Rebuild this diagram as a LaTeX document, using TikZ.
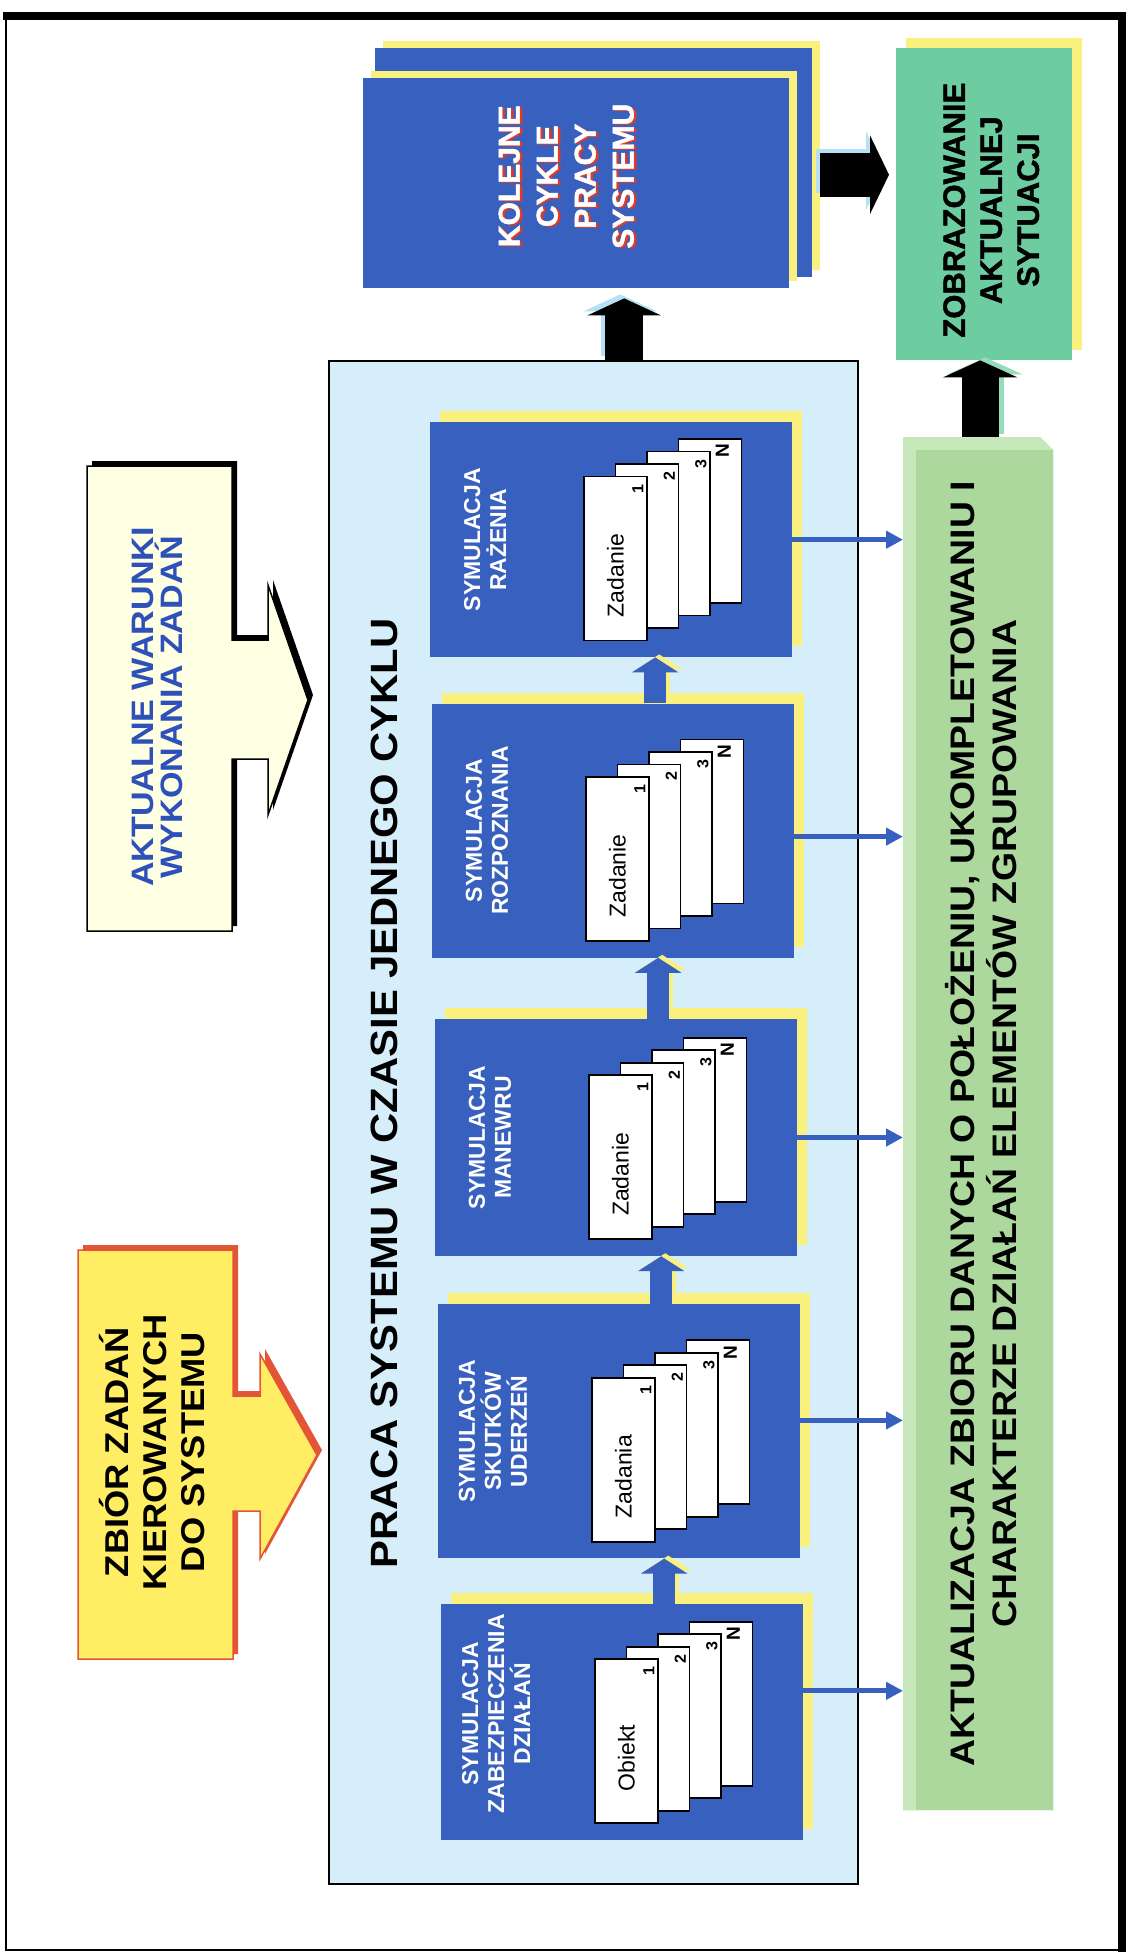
\documentclass[tikz,border=0pt]{standalone}
\usepackage{fontspec}
\setmainfont{Liberation Sans}
\newfontfamily\widefont{Liberation Sans}[FakeStretch=1.1]
\newfontfamily\heavyfont{Liberation Sans}[BoldFeatures={FakeBold=1.5}]
\usepackage{tikz}
\usetikzlibrary{
	arrows.meta,
	positioning,
	calc,
	shadows
}
\definecolor{panelblue}{RGB}{213,238,249}
\definecolor{simblue}{RGB}{56,96,190}
\definecolor{simyellow}{RGB}{250,240,125}
\definecolor{zobgreen}{RGB}{110,205,160}
\definecolor{aktgreen}{RGB}{172,216,158}
\definecolor{aktgreenl}{RGB}{198,232,186}
\definecolor{cream}{RGB}{255,255,228}
\definecolor{zbiorfill}{RGB}{255,238,100}
\definecolor{zbiorred}{RGB}{228,85,55}
\definecolor{glowblue}{RGB}{180,225,245}
\definecolor{glowgreen}{RGB}{150,220,185}
\definecolor{warblue}{RGB}{45,80,185}
\definecolor{kolred}{RGB}{220,60,40}

\begin{document}
\begin{tikzpicture}[x=1pt, y=-1pt,
	simbox/.style={fill=simblue, inner sep=0pt, minimum width=362pt, anchor=north west,
		general shadow={fill=simyellow, shadow xshift=10pt, shadow yshift=11pt}},
	simtxt/.style={rotate=90, align=center, text=white, inner sep=0pt,
		font=\fontsize{23}{26}\selectfont\bfseries},
	card/.style={draw=black, line width=1.8pt, fill=white, inner sep=0pt,
		minimum width=63pt, minimum height=164pt, anchor=south west},
	cardnum/.style={rotate=90, inner sep=0pt, font=\fontsize{#1}{#1}\selectfont\bfseries},
	cardtxt/.style={rotate=90, inner sep=0pt, font=\fontsize{23}{25}\selectfont},
	simarrow/.style={draw=simblue, line width=22pt, -{Triangle[length=15pt, width=46pt]}},
	simglow/.style={draw=simyellow, transform canvas={shift={(4pt,3pt)}}},
	infoarrow/.style={draw=simblue, line width=5pt, -{Triangle[length=17pt, width=17pt]}},
	bigarrow/.style={draw=black},
	bigglow/.style={draw=glowblue, transform canvas={shift={(-4pt,4pt)}}},
	kolbox/.style={fill=simblue, inner sep=0pt, anchor=north west,
		general shadow={fill=simyellow, shadow xshift=8pt, shadow yshift=7pt}},
	koltxt/.style={rotate=90, align=center, inner sep=0pt,
		font=\heavyfont\fontsize{30}{38}\selectfont\bfseries}
]

	\useasboundingbox (0,0) rectangle (1131,1957);
	\fill[white] (0,0) rectangle (1131,1957);

	\draw[line width=2pt] (6,18) -- (6,1950) -- (1122,1950);
	\draw[line width=8pt] (3,16) -- (1122,16) -- (1122,1952);

	% zbior zadan i aktualne warunki
	\draw[draw=black, line width=1.5pt, fill=cream,
		general shadow={fill=black, shadow xshift=5pt, shadow yshift=5pt}]
		(87,466) --++ (145,0) --++ (0,174) --++ (36,0) --++ (0,-55) --++ (40,115)
		--++ (-40,115) --++ (0,-56) --++ (-36,0) --++ (0,172) --++ (-145,0) -- cycle;
	\node[rotate=90, align=center, text=warblue, inner sep=0pt,
		font={\widefont\fontsize{31}{29}\selectfont\bfseries\lineskiplimit-30pt}]
		(warunki) at (157,707) {AKTUALNE WARUNKI\\WYKONANIA ZADAŃ};

	\draw[draw=zbiorred, line width=1.5pt, fill=zbiorfill,
		general shadow={fill=zbiorred, shadow xshift=5pt, shadow yshift=5pt}]
		(78,1250) --++ (155,0) --++ (0,146) --++ (27,0) --++ (0,-42) --++ (57,101)
		--++ (-57,104) --++ (0,-48) --++ (-27,0) --++ (0,148) --++ (-155,0) -- cycle;
	\node[rotate=90, align=center, inner sep=0pt,
		font=\widefont\fontsize{33}{38}\selectfont\bfseries]
		(zbior) at (152,1452) {ZBIÓR ZADAŃ\\KIEROWANYCH\\DO SYSTEMU};

	% praca systemu
	\node[draw, line width=1.5pt, fill=panelblue, minimum width=529pt, minimum height=1523pt,
		anchor=north west, inner sep=0pt] (praca) at (328,360) {};
	\node[rotate=90, inner sep=0pt, font=\widefont\fontsize{38}{42}\selectfont\bfseries]
		(praca-tytul) at ([xshift=56pt, yshift=29pt]praca.west) {PRACA SYSTEMU W CZASIE JEDNEGO CYKLU};

	\node[simbox, minimum height=235pt] (razenie) at (430,422) {};
	\node[simbox, minimum height=254pt, below=46pt of razenie.south west, anchor=north west, xshift=2pt] (rozp) {};
	\node[simbox, minimum height=237pt, below=61pt of rozp.south west, anchor=north west, xshift=3pt] (manewr) {};
	\node[simbox, minimum height=254pt, below=48pt of manewr.south west, anchor=north west, xshift=3pt] (skutki) {};
	\node[simbox, minimum height=236pt, below=45pt of skutki.south west, anchor=north west, xshift=3pt] (zabezp) {};

	\node[simtxt] (razenie-txt) at ([xshift=55pt]razenie.west) {SYMULACJA\\RAŻENIA};
	\node[simtxt] (rozp-txt) at ([xshift=55pt]rozp.west) {SYMULACJA\\ROZPOZNANIA};
	\node[simtxt] (manewr-txt) at ([xshift=55pt]manewr.west) {SYMULACJA\\MANEWRU};
	\node[simtxt] (skutki-txt) at ([xshift=55pt]skutki.west) {SYMULACJA\\SKUTKÓW\\UDERZEŃ};
	\node[simtxt] (zabezp-txt) at ([xshift=55pt, yshift=8pt]zabezp.west) {SYMULACJA\\ZABEZPIECZENIA\\DZIAŁAŃ};

	\foreach \bx/\karta in {razenie/Zadanie, rozp/Zadanie, manewr/Zadanie, skutki/Zadania, zabezp/Obiekt} {
		\foreach \k/\n/\dx/\fs in {3/N/-20/19, 2/3/-10/16, 1/2/-10/16, 0/1/-10/16} {
			\node[card] (\bx-c\k) at ([xshift=153pt+31.5pt*\k, yshift=16pt+12.5pt*\k]\bx.south west) {};
			\node[cardnum=\fs] (\bx-n\k) at ([xshift=\dx pt, yshift=-13pt]\bx-c\k.north east) {\n};
		}
		\node[cardtxt] (\bx-karta) at ([yshift=-17pt]\bx-c0.center) {\karta};
	}

	\foreach \dol/\gora in {zabezp/skutki, skutki/manewr, manewr/rozp, rozp/razenie} {
		\draw[simarrow, simglow] ([xshift=42pt]\dol.north) -- ([xshift=42pt]\dol.north |- \gora.south);
		\draw[simarrow] ([xshift=42pt]\dol.north) -- ([xshift=42pt]\dol.north |- \gora.south);
	}

	% aktualizacja
	\node[minimum width=150pt, minimum height=1373pt, anchor=north west, inner sep=0pt]
		(aktual) at (903,437) {};
	\fill[aktgreenl] (aktual.north west) -- ([xshift=-13pt]aktual.north east) -- ([yshift=-13pt]aktual.north east)
		-- (aktual.south east) -- (aktual.south west) -- cycle;
	\fill[aktgreen] ([shift={(13pt,-13pt)}]aktual.north west) rectangle (aktual.south east);
	\node[rotate=90, align=center, inner sep=0pt, font=\widefont\fontsize{34}{42}\selectfont\bfseries]
		(aktual-txt) at ([xshift=3pt]aktual.center)
		{AKTUALIZACJA ZBIORU DANYCH O POŁOŻENIU, UKOMPLETOWANIU I\\CHARAKTERZE DZIAŁAŃ ELEMENTÓW ZGRUPOWANIA};

	\foreach \bx/\dy in {razenie/0, rozp/-6, manewr/0, skutki/11, zabezp/31}
		\draw[infoarrow] ([yshift=\dy pt]\bx.east) -- ([yshift=\dy pt]\bx.east -| aktual.west);

	% kolejne cykle i zobrazowanie
	\node[kolbox, minimum width=437pt, minimum height=229pt] (kolback) at (375,48) {};
	\node[kolbox, minimum width=426pt, minimum height=210pt] (kolfront) at (363,78) {};
	\node[koltxt, text=kolred] (kolejne-cien) at ([shift={(-7.5pt,6pt)}]kolfront.center) {KOLEJNE\\CYKLE\\PRACY\\SYSTEMU};
	\node[koltxt, text=white] (kolejne) at ([shift={(-10pt,7pt)}]kolfront.center) {KOLEJNE\\CYKLE\\PRACY\\SYSTEMU};

	\node[fill=zobgreen, minimum width=176pt, minimum height=312pt, anchor=north west, inner sep=0pt,
		general shadow={fill=simyellow, shadow xshift=10pt, shadow yshift=10pt}] (zobraz) at (896,48) {};
	\node[rotate=90, align=center, inner sep=0pt, font=\heavyfont\fontsize{31}{37}\selectfont\bfseries]
		(zobraz-txt) at ([shift={(7pt,-6pt)}]zobraz.center) {ZOBRAZOWANIE\\AKTUALNEJ\\SYTUACJI};

	\coordinate (upk) at ([shift={(48pt,-10pt)}]kolfront.south);
	\draw[bigarrow, bigglow, line width=38pt, -{Triangle[length=17pt, width=73pt]}] (praca.north -| upk) -- (upk);
	\draw[bigarrow, line width=38pt, -{Triangle[length=17pt, width=73pt]}] (praca.north -| upk) -- (upk);

	\coordinate (kolout) at ([shift={(8pt,-12pt)}]kolback.east);
	\draw[bigarrow, bigglow, line width=44pt, shorten >=7pt, -{Triangle[length=19pt, width=78pt]}] (kolout) -- (kolout -| zobraz.west);
	\draw[bigarrow, line width=44pt, shorten >=7pt, -{Triangle[length=19pt, width=78pt]}] (kolout) -- (kolout -| zobraz.west);

	\coordinate (upz) at ([xshift=-4pt]zobraz.south);
	\draw[bigarrow, draw=glowgreen, transform canvas={shift={(5pt,3pt)}}, line width=37pt, -{Triangle[length=17pt, width=74pt]}] (aktual.north -| upz) -- (upz);
	\draw[bigarrow, line width=37pt, -{Triangle[length=17pt, width=74pt]}] (aktual.north -| upz) -- (upz);

\end{tikzpicture}
\end{document}
